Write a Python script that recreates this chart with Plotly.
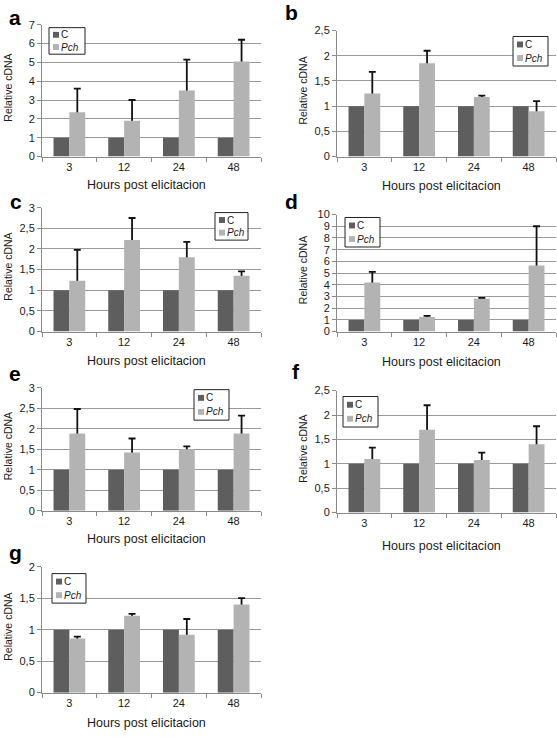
import plotly.graph_objects as go

W, H = 557, 737

# ---------------- data ----------------
hours = ["3", "12", "24", "48"]
series_names = ["C", "Pch"]

a_c = [1, 1, 1, 1]
a_pch = [2.35, 1.9, 3.5, 5.05]
a_err = [1.25, 1.1, 1.65, 1.15]

b_c = [1, 1, 1, 1]
b_pch = [1.25, 1.85, 1.18, 0.9]
b_err = [0.43, 0.25, 0.03, 0.2]

c_c = [1, 1, 1, 1]
c_pch = [1.23, 2.22, 1.8, 1.35]
c_err = [0.75, 0.53, 0.37, 0.11]

d_c = [1, 1, 1, 1]
d_pch = [4.2, 1.25, 2.8, 5.65]
d_err = [0.9, 0.1, 0.08, 3.35]

e_c = [1, 1, 1, 1]
e_pch = [1.88, 1.42, 1.5, 1.88]
e_err = [0.6, 0.34, 0.07, 0.44]

f_c = [1, 1, 1, 1]
f_pch = [1.1, 1.7, 1.08, 1.4]
f_err = [0.23, 0.5, 0.15, 0.37]

g_c = [1, 1, 1, 1]
g_pch = [0.86, 1.22, 0.92, 1.4]
g_err = [0.03, 0.03, 0.25, 0.1]

y_max = {"a": 7, "b": 2.5, "c": 3, "d": 10, "e": 3, "f": 2.5, "g": 2}
y_dtick = {"a": 1, "b": 0.5, "c": 0.5, "d": 1, "e": 0.5, "f": 0.5, "g": 0.5}

x_title = "Hours post elicitacion"
y_title = "Relative cDNA"

# ---------------- layout (pixels) ----------------
COL = {"L": (42, 261), "R": (337, 556)}
panels = [
    # letter, values, col, top, bottom, legend box, letter pos, xtitle y
    ("a", a_c, a_pch, a_err, "L", 19, 153, (49, 22, 85, 49), (7, 12), 182),
    ("b", b_c, b_pch, b_err, "R", 25, 153, (513, 31, 548, 61), (283, 7), 183),
    ("c", c_c, c_pch, c_err, "L", 205, 331, (215, 210, 248, 238), (8, 199), 361),
    ("d", d_c, d_pch, d_err, "R", 212, 331, (345, 215, 380, 245), (283, 199), 362),
    ("e", e_c, e_pch, e_err, "L", 388, 513, (194, 390, 229, 421), (7, 374), 542),
    ("f", f_c, f_pch, f_err, "R", 391, 515, (343, 397, 378, 428), (290, 372), 549),
    ("g", g_c, g_pch, g_err, "L", 570, 698, (52, 577, 86, 607), (7, 556), 729),
]

C_COLOR = "#5e5e5e"
P_COLOR = "#b3b3b3"
GRID = "#9a9a9a"
AX = "#8a8a8a"
TXT = "#1a1a1a"
FONT = "Liberation Sans, Arial, sans-serif"


def fx(x):
    return x / W


def fy(y):
    return 1 - y / H


fig = go.Figure()
shapes = []
annotations = []

for i, (L, cv, pv, ev, col, top, bot, lbox, lpos, xty) in enumerate(panels):
    n = "" if i == 0 else str(i + 1)
    xa, ya = "x" + n, "y" + n
    x0, x1 = COL[col]

    fig.add_trace(go.Bar(x=hours, y=cv, name=series_names[0], marker_color=C_COLOR,
                         marker_line_width=0, offsetgroup="c", xaxis=xa, yaxis=ya,
                         showlegend=False))
    # error bars carried by a transparent bar underneath the visible Pch bar
    fig.add_trace(go.Bar(x=hours, y=pv, name=series_names[1] + " error",
                         marker_color="rgba(0,0,0,0)", marker_line_width=0,
                         offsetgroup="p", xaxis=xa, yaxis=ya, showlegend=False,
                         hoverinfo="skip",
                         error_y=dict(type="data", array=ev, symmetric=True,
                                      color="#111111", thickness=1.8, width=3.5)))
    fig.add_trace(go.Bar(x=hours, y=pv, name=series_names[1], marker_color=P_COLOR,
                         marker_line_width=0, offsetgroup="p", xaxis=xa, yaxis=ya,
                         showlegend=False))

    fig.layout["xaxis" + n] = dict(
        domain=[fx(x0), fx(x1)], anchor=ya, type="category",
        showline=True, linecolor=AX, linewidth=1, ticks="outside", tickson="boundaries",
        ticklen=4, tickcolor=AX, showgrid=False, zeroline=False,
        tickfont=dict(size=11, color=TXT, family=FONT),
    )
    fig.layout["yaxis" + n] = dict(
        domain=[fy(bot), fy(top)], anchor=xa, range=[0, y_max[L]], dtick=y_dtick[L],
        showline=True, linecolor=AX, linewidth=1, ticks="outside", ticklen=4,
        tickcolor=AX, showgrid=True, gridcolor=GRID, gridwidth=1, zeroline=False,
        tickfont=dict(size=11, color=TXT, family=FONT),
    )

    # panel letter
    annotations.append(dict(text="<b>%s</b>" % L, x=fx(lpos[0]), y=fy(lpos[1]),
                            xref="paper", yref="paper", xanchor="left", yanchor="middle",
                            showarrow=False, font=dict(size=21, color="#000", family=FONT)))
    # axis titles
    annotations.append(dict(text=x_title, x=fx((x0 + x1) / 2 - 5), y=fy(xty),
                            xref="paper", yref="paper", xanchor="center", yanchor="middle",
                            showarrow=False, font=dict(size=12.5, color=TXT, family=FONT)))
    annotations.append(dict(text=y_title, x=fx(x0 - 34), y=fy((top + bot) / 2 - 3),
                            xref="paper", yref="paper", xanchor="center", yanchor="middle",
                            textangle=-90, showarrow=False,
                            font=dict(size=10.5, color=TXT, family=FONT)))

    # legend box
    bx0, by0, bx1, by1 = lbox
    shapes.append(dict(type="rect", xref="paper", yref="paper", x0=fx(bx0), x1=fx(bx1),
                       y0=fy(by1), y1=fy(by0), line=dict(color="#222", width=1),
                       fillcolor="white", layer="above"))
    hgt = by1 - by0
    for k, (nm, colr) in enumerate([(series_names[0], C_COLOR), (series_names[1], P_COLOR)]):
        cy = by0 + hgt * (0.27 if k == 0 else 0.73)
        shapes.append(dict(type="rect", xref="paper", yref="paper",
                           x0=fx(bx0 + 4), x1=fx(bx0 + 10), y0=fy(cy + 3), y1=fy(cy - 3),
                           line=dict(width=0), fillcolor=colr, layer="above"))
        annotations.append(dict(text=nm if k == 0 else "<i>%s</i>" % nm,
                                x=fx(bx0 + 11), y=fy(cy), xref="paper", yref="paper",
                                xanchor="left", yanchor="middle", showarrow=False,
                                borderpad=0,
                                font=dict(size=10, color=TXT, family=FONT)))

fig.update_layout(
    width=W, height=H, margin=dict(l=0, r=0, t=0, b=0),
    paper_bgcolor="white", plot_bgcolor="white",
    barmode="group", bargap=0.42, bargroupgap=0,
    separators=", ", showlegend=False,
    font=dict(family=FONT, color=TXT),
    shapes=shapes, annotations=annotations,
)

fig.write_html(
    "out.html",
    config={"displayModeBar": False},
    post_script="document.body.style.margin='0';document.body.style.overflow='hidden';",
)
